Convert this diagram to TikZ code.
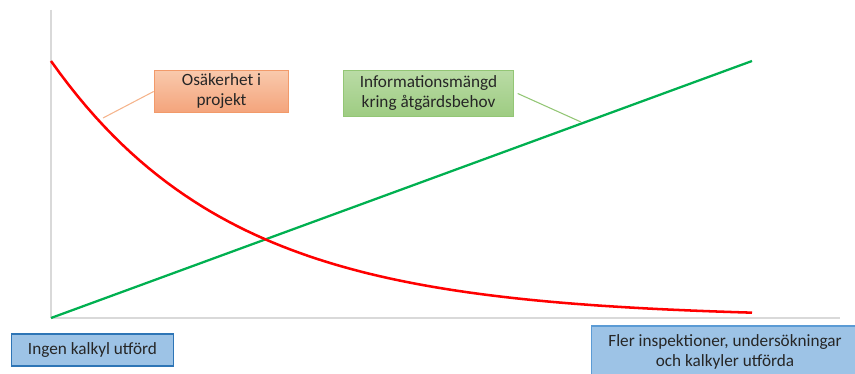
\documentclass[tikz,border=0pt]{standalone}
\usepackage{fontspec}
\setmainfont{Carlito}
\usetikzlibrary{positioning}
\definecolor{axisgray}{HTML}{D9D9D9}
\definecolor{curvered}{HTML}{FF0000}
\definecolor{linegreen}{HTML}{00B050}
\definecolor{textdark}{HTML}{262626}
\definecolor{orangetop}{HTML}{F9C9AC}
\definecolor{orangebot}{HTML}{F4A47C}
\definecolor{orangeedge}{HTML}{F29A6A}
\definecolor{orangeline}{HTML}{F5B48C}
\definecolor{greentop}{HTML}{B9DBA5}
\definecolor{greenbot}{HTML}{9ECC82}
\definecolor{greenedge}{HTML}{93C675}
\definecolor{bluefill}{HTML}{9DC3E6}
\definecolor{blueedge}{HTML}{2E75B6}
\definecolor{blueedgeb}{HTML}{5B9BD5}

\begin{document}
\begin{tikzpicture}[x=0.75pt, y=-0.75pt, font=\fontsize{12.9}{15}\selectfont, text=textdark]

		\tikzset{
			labelbox/.style={draw, line width=0.8pt, align=center, inner sep=0pt},
			orangebox/.style={labelbox, top color=orangetop, bottom color=orangebot, draw=orangeedge},
			greenbox/.style={labelbox, top color=greentop, bottom color=greenbot, draw=greenedge},
			bluebox/.style={labelbox, fill=bluefill, draw=blueedge},
		}

		\useasboundingbox (0,0) rectangle (855,374);
		\clip (0,0) rectangle (855,374);

		% axes
		\draw [axisgray, line width=0.8pt] (51,10) -- (51,318);
		\draw [axisgray, line width=0.8pt] (51,318) -- (840,318);

		% curves
		\draw [linegreen, line width=1.7pt] (51,318) -- (752,61);
		\draw [curvered, line width=1.9pt, domain=51:752, samples=80]
			plot (\x, {318 - 257*exp(-0.00553*(\x-51))});

		% leader ends
		\coordinate (osakend) at (103,118);
		\coordinate (infoend) at (581,122);

		% label boxes (sizes in pt)
		\node [orangebox, minimum width=101pt, minimum height=31pt] (osak) at (221.5,91.5) {Osäkerhet i\\projekt};
		\node [greenbox, minimum width=127pt, minimum height=34pt] (info) at (428.5,93.5) {Informationsmängd\\kring åtgärdsbehov};
		\node [bluebox, minimum width=121pt, minimum height=24pt] (ingen) at (92.5,350) {Ingen kalkyl utförd};
		\node [bluebox, draw=blueedgeb, minimum width=200pt, minimum height=39pt] (fler) at (725,352) {Fler inspektioner, undersökningar\\och kalkyler utförda};

		\draw [orangeline, line width=0.8pt] (osak.west) -- (osakend);
		\draw [greenedge, line width=0.8pt] ([xshift=3pt]info.east) -- (infoend);
\end{tikzpicture}
\end{document}
